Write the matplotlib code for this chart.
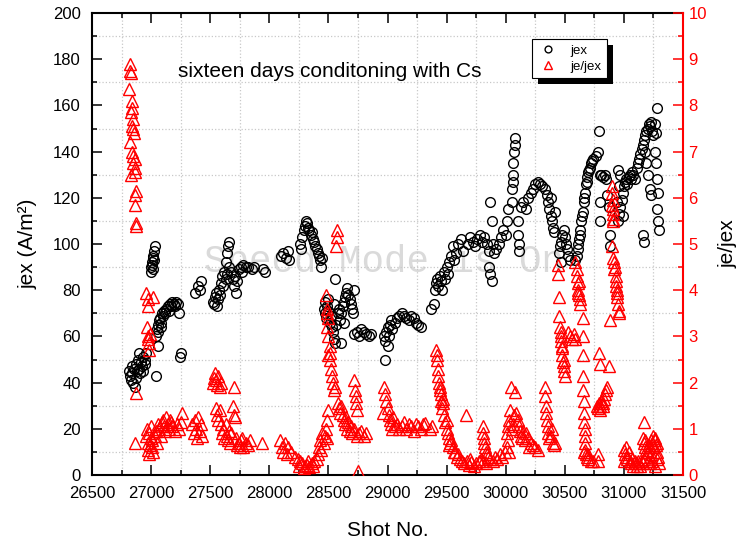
import matplotlib
matplotlib.use("Agg")
import matplotlib.pyplot as plt
from matplotlib.ticker import MultipleLocator
from matplotlib.patches import Rectangle

plt.rcParams['font.family'] = ['Liberation Sans', 'DejaVu Sans']

# Extraction current density jex (A/m^2) per shot
shot_jex = [
    26815, 26825, 26830, 26835, 26840, 26850, 26855, 26860, 26870, 26875, 26880, 26890, 26895, 26900,
    26905, 26915, 26920, 26930, 26935, 26945, 26950, 26960,
    26995, 27000, 27005, 27010, 27012, 27015, 27020, 27022, 27025, 27030,
    27040, 27045, 27050, 27055, 27058, 27060, 27065, 27075, 27080, 27085, 27090, 27100, 27110, 27120,
    27130, 27140, 27150, 27160, 27170, 27180, 27190, 27200, 27210, 27230, 27240,
    27245, 27250,
    27370, 27400, 27410, 27425,
    27525, 27535, 27540, 27550, 27555, 27565, 27575, 27585, 27590, 27600, 27610, 27620, 27630, 27635,
    27645, 27645, 27650, 27655, 27660,
    27680, 27690, 27700, 27710, 27720, 27730, 27740, 27760, 27770, 27780, 27800, 27820, 27850, 27870,
    27950, 27960,
    28100, 28120, 28140, 28160, 28170,
    28260, 28270, 28280, 28290, 28300, 28310, 28320, 28330, 28340, 28350, 28360, 28370, 28380, 28390,
    28400, 28410, 28420, 28430, 28440, 28450,
    28460, 28470, 28475, 28480, 28490, 28500, 28500, 28510, 28520, 28530, 28540, 28545, 28550, 28555,
    28560, 28565, 28580, 28590,
    28600, 28605, 28610, 28620, 28630, 28630, 28640, 28650, 28660, 28670, 28680, 28690, 28700, 28710, 28720,
    28720, 28740, 28760, 28780, 28800, 28820, 28840, 28860,
    28970, 28975, 28980, 28990, 29000, 29000, 29010, 29020, 29030, 29040,
    29060, 29080, 29100, 29120, 29140, 29160, 29180, 29200, 29220, 29240, 29260, 29280,
    29370, 29390, 29400, 29410, 29420, 29430, 29440, 29450, 29460, 29480, 29490, 29500, 29510, 29520,
    29540, 29550, 29560, 29580, 29600, 29620, 29640,
    29680, 29700, 29720, 29740, 29760, 29780, 29800, 29820, 29840, 29860,
    29860, 29870, 29880, 29870, 29880, 29890, 29900,
    29920, 29940, 29960, 29980, 30000, 30010, 30020,
    30050, 30055, 30060, 30060, 30065, 30070, 30075, 30080,
    30100, 30105, 30110, 30115,
    30130, 30150, 30170, 30190, 30210, 30230, 30250, 30270, 30290, 30310, 30330, 30350,
    30360, 30370, 30380, 30380, 30390, 30400, 30410, 30420,
    30450, 30460, 30470, 30470, 30480, 30490, 30500, 30510, 30520, 30530, 30540,
    30590, 30600, 30610, 30615, 30620, 30625, 30630, 30640, 30645, 30650, 30660, 30665, 30670, 30680,
    30685, 30690, 30700, 30705, 30710, 30720, 30730, 30740, 30760, 30780,
    30790,
    30800, 30800, 30800, 30810, 30820, 30840, 30850, 30860, 30870, 30880, 30885,
    30940, 30950, 30950, 30960, 30960, 30970, 30970, 30980, 30990, 30990, 31000, 31010, 31020, 31030,
    31040, 31050, 31060, 31070, 31080, 31090,
    31110, 31120, 31130, 31140, 31150, 31160, 31160, 31170, 31170, 31180, 31180, 31190, 31190, 31200,
    31200, 31210, 31220, 31220, 31230, 31230, 31240, 31250, 31260, 31260, 31270, 31270, 31280, 31280,
    31280, 31290, 31290, 31300,
]
jex = [
    45, 43, 41, 47, 44, 40, 46, 38, 42, 48, 45, 50, 53, 46,
    44, 49, 47, 45, 51, 48, 50, 53,
    88, 90, 92, 91, 89, 94, 95, 93, 97, 99,
    60, 43, 63, 65, 56, 62, 67, 68, 64, 66, 70, 69, 71, 70,
    72, 73, 71, 74, 73, 75, 74, 73, 75, 74, 70,
    51, 53,
    79, 82, 80, 84,
    75, 74, 77, 79, 73, 76, 80, 78, 83, 86, 82, 88, 85, 92,
    96, 87, 99, 101, 90,
    88, 85, 82, 86, 79, 84, 89, 90, 88, 91, 90, 90, 89, 90,
    89, 88,
    95, 96, 94, 97, 93,
    100, 98, 103, 106, 108, 110, 109, 107, 106, 104, 105, 102, 101, 99,
    98, 96, 95, 93, 90, 94,
    72, 75, 70, 68, 73, 71, 76, 66, 69, 64, 62, 74, 59, 85,
    57, 65, 70, 72,
    67, 57, 70, 73, 75, 66, 77, 79, 81, 78, 76, 74, 72, 70, 80,
    61, 62, 60, 63, 62, 61, 60, 61,
    60, 50, 58, 62, 64, 56, 60, 65, 67, 63,
    66, 68, 69, 70, 69, 68, 67, 69, 68, 66, 65, 64,
    72, 74, 80, 83, 85, 82, 86, 84, 80, 88, 85, 90, 87, 92,
    95, 99, 93, 96, 100, 102, 97,
    100, 103, 101, 99, 102, 104, 101, 103, 100, 97,
    90, 87, 84, 118, 110, 100, 96,
    98, 100, 103, 106, 104, 110, 115,
    118, 124, 127, 130, 135, 140, 143, 146,
    110, 104, 100, 97,
    116, 118, 115, 120, 122, 124, 126, 127, 126, 125, 124, 121,
    118, 115, 112, 120, 110, 107, 105, 114,
    96, 99, 101, 92, 104, 106, 103, 100, 98, 95, 93,
    93, 95, 98, 100, 102, 104, 106, 110, 112, 114, 118, 120, 122, 126,
    127, 129, 131, 132, 133, 135, 136, 137, 138, 140,
    149,
    130, 118, 110, 130, 129, 130, 128, 121, 116, 104, 99,
    118, 110, 132, 113, 125, 116, 130, 119, 122, 112, 125, 127, 128, 126,
    129, 130, 128, 131, 130, 128,
    133, 135, 137, 139, 141, 143, 104, 145, 101, 147, 140, 149, 135, 150,
    130, 152, 151, 124, 153, 121, 149, 147, 152, 140, 148, 135, 159, 128,
    115, 122, 110, 106,
]

# Ratio of electron to extracted ion current je/jex per shot
shot_ratio = [
    26820, 26825, 26830, 26815, 26835, 26840, 26830, 26845, 26835, 26850, 26825, 26855, 26840, 26850,
    26860, 26845, 26830, 26860, 26865, 26870, 26865, 26860, 26875, 26870,
    26960, 26970, 26975, 27020, 26965, 26975, 26980, 26970, 26985, 26990,
    26870, 26860,
    26960, 26965, 26970, 26975, 26980, 26985, 26990, 26995, 27000, 27005, 27010, 27020, 27030, 27040,
    27050, 27060, 27070, 27080, 27090, 27100, 27110, 27120, 27130, 27140, 27150, 27160, 27170, 27180,
    27200, 27220, 27240, 27250, 27260,
    27350, 27360, 27370, 27380, 27390, 27400, 27410, 27420, 27430,
    27520, 27530, 27540, 27550, 27560, 27570, 27580, 27590, 27700,
    27550, 27560, 27570, 27580, 27590, 27600, 27610, 27620, 27630, 27640, 27650, 27660, 27670, 27680,
    27690, 27700, 27710, 27720, 27730, 27740, 27750, 27760, 27770, 27780, 27800, 27820, 27840,
    27940, 28090, 28110, 28120, 28130, 28150, 28160, 28180,
    28220, 28240, 28250, 28260, 28280, 28290, 28300, 28320, 28330, 28340, 28360, 28370, 28380, 28400,
    28410, 28420, 28430, 28440, 28450, 28460, 28470, 28480, 28490,
    28480, 28490, 28490, 28500, 28490, 28500, 28510, 28510, 28500, 28510, 28520, 28530, 28540, 28550, 28560,
    28570, 28570, 28565,
    28490, 28500, 28580, 28590, 28600, 28610, 28620, 28630, 28640, 28650, 28660, 28670, 28680, 28690,
    28700, 28720, 28740, 28760, 28780, 28800, 28820,
    28720, 28725, 28730, 28735, 28740,
    28750,
    28960, 28970, 28980, 28990, 29000, 29010, 29020, 29030, 29040, 29050, 29060,
    29080, 29100, 29120, 29140, 29160, 29180, 29200, 29220, 29240, 29260, 29280, 29300, 29320, 29360, 29380,
    29410, 29415, 29420, 29425, 29430, 29435, 29440, 29445, 29450, 29455, 29460, 29470, 29470, 29480,
    29490, 29500, 29500, 29510, 29520, 29520, 29530, 29540, 29550, 29560,
    29660,
    29570, 29590, 29600, 29610, 29630, 29650, 29670, 29690, 29700, 29710, 29730, 29750, 29770, 29790,
    29810, 29830,
    29805, 29810, 29815, 29820, 29825, 29830, 29840, 29850,
    29870, 29890, 29910, 29930, 29950, 29970, 29990,
    30010, 30010, 30020, 30020, 30030, 30030, 30040, 30045, 30050, 30060, 30070, 30080, 30090, 30100,
    30110, 30120, 30130, 30140,
    30150, 30160, 30170, 30190, 30200, 30210, 30230, 30250, 30270,
    30330, 30335, 30340, 30345, 30350, 30355, 30360, 30370, 30380, 30390,
    30400, 30410, 30420,
    30440, 30445, 30450, 30455, 30460, 30465, 30470, 30470, 30475, 30480, 30480, 30485, 30490, 30490,
    30495, 30500,
    30530, 30545, 30560, 30575, 30590,
    30590, 30600, 30605, 30610, 30610, 30615, 30620, 30620, 30625, 30630,
    30650, 30650, 30652, 30655, 30657, 30660, 30662, 30665, 30667, 30670, 30672, 30675, 30680, 30660,
    30690, 30700, 30700, 30720, 30740,
    30780, 30780, 30790, 30795, 30870,
    30770, 30780, 30790, 30800, 30800, 30810, 30820, 30820, 30830, 30840, 30850, 30860,
    30900, 30900, 30905, 30900, 30905, 30910, 30905, 30910, 30900, 30910, 30920, 30915, 30925, 30930,
    30930, 30935, 30940, 30945, 30945, 30950, 30955, 30960, 30880,
    31000, 31005, 31010, 31015, 31020, 31030, 31040, 31050, 31060, 31070, 31080, 31090, 31100, 31110,
    31120, 31130, 31140, 31150, 31160, 31170, 31180, 31200, 31220, 31240, 31260, 31280, 31300,
    31170, 31160, 31170, 31175, 31180, 31190, 31200, 31210, 31220, 31230, 31230, 31240, 31250, 31250,
    31260, 31265, 31270, 31280, 31280, 31290,
]
ratio = [
    8.9, 8.75, 8.7, 8.35, 8.1, 7.95, 7.85, 7.7, 7.55, 7.5, 7.2, 7.4, 7.0, 6.9,
    6.85, 6.75, 6.5, 6.65, 6.55, 6.15, 6.05, 5.85, 5.45, 5.4,
    3.95, 3.8, 3.65, 3.85, 3.2, 3.0, 2.85, 2.95, 2.7, 3.05,
    1.77, 0.7,
    0.85, 1.0, 0.7, 0.55, 0.9, 0.45, 0.65, 0.8, 1.05, 0.6, 0.75, 0.5, 0.85, 0.95,
    0.7, 1.1, 1.0, 0.85, 1.15, 1.2, 1.05, 0.95, 1.25, 1.1, 1.0, 1.2, 1.15, 1.05,
    0.95, 1.1, 1.0, 1.15, 1.35,
    1.1, 0.9, 1.2, 1.0, 0.8, 1.25, 0.95, 1.1, 0.85,
    2.0, 2.1, 2.2, 2.05, 1.95, 2.15, 1.9, 2.0, 1.9,
    1.45, 1.3, 1.2, 1.4, 1.1, 0.9, 1.0, 0.8, 1.1, 0.85, 0.75, 0.95, 0.7, 0.9,
    1.5, 1.3, 1.25, 0.8, 0.65, 0.7, 0.6, 0.75, 0.8, 0.6, 0.7, 0.65, 0.75,
    0.7, 0.75, 0.6, 0.5, 0.7, 0.45, 0.6, 0.5,
    0.4, 0.35, 0.2, 0.3, 0.25, 0.15, 0.2, 0.22, 0.3, 0.18, 0.25, 0.2, 0.3, 0.35,
    0.45, 0.6, 0.75, 0.55, 0.9, 0.7, 0.85, 1.0, 0.8,
    3.9, 3.6, 3.5, 3.4, 3.2, 3.0, 2.8, 2.65, 2.6, 2.5, 2.3, 2.15, 2.0, 1.85, 1.9,
    5.3, 5.15, 4.95,
    1.2, 1.4, 1.55, 1.45, 1.35, 1.5, 1.3, 1.2, 1.1, 1.25, 1.0, 1.15, 0.95, 1.05,
    0.9, 1.0, 0.85, 0.9, 0.95, 0.85, 0.9,
    2.05, 1.85, 1.7, 1.55, 1.4,
    0.08,
    1.35, 1.9, 1.75, 1.6, 1.45, 1.3, 1.2, 1.1, 1.0, 1.25, 1.05,
    1.1, 1.0, 1.05, 1.15, 1.0, 1.1, 1.05, 0.95, 1.1, 1.05, 1.0, 1.1, 1.12, 1.0, 1.05,
    2.7, 2.6, 2.5, 2.3, 2.15, 2.0, 1.9, 1.85, 1.75, 1.6, 1.45, 1.55, 1.65, 1.3,
    1.15, 1.0, 1.2, 0.9, 0.8, 0.65, 0.7, 0.75, 0.6, 0.5,
    1.3,
    0.5, 0.4, 0.45, 0.35, 0.3, 0.25, 0.3, 0.22, 0.35, 0.28, 0.2, 0.25, 0.3, 0.35,
    0.3, 0.25,
    1.05, 0.9, 0.8, 0.7, 0.6, 0.5, 0.45, 0.4,
    0.35, 0.3, 0.4, 0.35, 0.45, 0.4, 0.5,
    0.9, 0.6, 1.05, 0.75, 1.2, 0.5, 1.4, 1.9, 1.0, 1.1, 1.3, 1.8, 1.35, 1.2,
    1.05, 0.95, 0.85, 0.8,
    0.95, 0.75, 0.9, 0.8, 0.6, 0.7, 0.65, 0.6, 0.55,
    1.9, 1.7, 1.5, 1.35, 1.2, 1.05, 0.9, 0.8, 0.85, 1.0,
    0.7, 0.65, 0.7,
    4.55, 4.35, 3.85, 3.45, 3.2, 3.0, 2.9, 3.1, 2.75, 2.6, 2.8, 2.45, 2.35, 2.5,
    2.25, 2.15,
    3.1, 3.0, 2.95, 3.05, 2.95,
    4.6, 4.45, 4.3, 4.15, 3.95, 4.0, 3.9, 4.2, 3.8, 3.7,
    3.4, 3.0, 2.6, 2.15, 1.85, 1.6, 1.35, 1.15, 1.0, 0.85, 0.7, 0.55, 0.45, 0.5,
    0.4, 0.35, 0.45, 0.3, 0.3,
    0.45, 0.3, 2.65, 2.4, 2.35,
    1.5, 1.45, 1.55, 1.4, 1.5, 1.6, 1.5, 1.55, 1.65, 1.75, 1.85, 1.9,
    6.25, 6.1, 5.95, 5.85, 5.75, 5.65, 5.55, 5.5, 4.95, 4.7, 4.6, 4.45, 4.5, 4.3,
    4.2, 4.1, 4.0, 3.85, 3.95, 3.7, 3.55, 3.5, 3.35,
    0.55, 0.3, 0.45, 0.6, 0.4, 0.35, 0.5, 0.3, 0.25, 0.35, 0.2, 0.3, 0.25, 0.2,
    0.3, 0.25, 0.2, 0.3, 0.25, 0.35, 0.4, 0.3, 0.25, 0.3, 0.2, 0.35, 0.25,
    1.15, 0.8, 0.7, 0.75, 0.6, 0.55, 0.5, 0.65, 0.6, 0.75, 0.45, 0.7, 0.6, 0.85,
    0.8, 0.75, 0.65, 0.5, 0.7, 0.4,
]

x_ticks = [26500, 27000, 27500, 28000, 28500, 29000, 29500, 30000, 30500, 31000, 31500]

fig = plt.figure(figsize=(7.38, 5.46), dpi=100)
ax = fig.add_axes([92 / 738, 71 / 546, 591 / 738, 462 / 546])
ax2 = ax.twinx()

# faint overlay text behind the data
ax.text(0.19, 0.46, 'Speed Mode is On', transform=ax.transAxes, family='Liberation Mono',
        fontsize=27, color='#dadada', va='center', ha='left', zorder=0.5)

l1, = ax.plot(shot_jex, jex, ls='none', marker='o', ms=7, mfc='none', mec='black',
              mew=1.0, label='jex', zorder=3)
l2, = ax2.plot(shot_ratio, ratio, ls='none', marker='^', ms=8, mfc='none', mec='red',
               mew=1.0, label='je/jex', zorder=3)

ax.set_xlim(26500, 31500)
ax.set_ylim(0, 200)
ax2.set_ylim(0, 10)
ax.set_xticks(x_ticks)
ax.xaxis.set_minor_locator(MultipleLocator(250))
ax.yaxis.set_major_locator(MultipleLocator(20))
ax.yaxis.set_minor_locator(MultipleLocator(10))
ax2.yaxis.set_major_locator(MultipleLocator(1))
ax2.yaxis.set_minor_locator(MultipleLocator(0.5))

ax.grid(which='minor', ls=':', color='#c8c8c8', lw=0.9)
ax.set_axisbelow(True)

ax.tick_params(which='both', direction='in', top=True, right=False, labelsize=12,
               width=1.1, pad=8, colors='black')
ax.tick_params(which='major', length=7)
ax.tick_params(which='minor', length=3.5)
ax2.tick_params(which='both', direction='in', labelsize=12, width=1.1, pad=4,
                colors='red', labelcolor='red')
ax2.tick_params(which='major', length=7)
ax2.tick_params(which='minor', length=3.5)

for name in ('left', 'bottom', 'top'):
    ax.spines[name].set_linewidth(1.5)
    ax2.spines[name].set_visible(False)
ax.spines['right'].set_visible(False)
ax2.spines['right'].set_color('red')
ax2.spines['right'].set_linewidth(1.5)

ax.set_xlabel('Shot No.', fontsize=15, labelpad=14)
ax.set_ylabel('jex (A/m²)', fontsize=15, labelpad=11)
ax2.set_ylabel('je/jex', fontsize=15, labelpad=8, color='black')

ax.text(0.1455, 0.874, 'sixteen days conditoning with Cs', transform=ax.transAxes,
        fontsize=15, va='center', ha='left', zorder=4)

leg = ax2.legend([l1, l2], ['jex', 'je/jex'], loc='upper left',
                 bbox_to_anchor=(0.7445, 0.9437), borderaxespad=0, fontsize=9.5,
                 frameon=True, fancybox=False, edgecolor='black', framealpha=1,
                 handlelength=1.6, handletextpad=0.9, borderpad=0.4, labelspacing=0.3,
                 markerscale=0.7)
leg.get_frame().set_linewidth(0.8)
leg.set_zorder(6)

# solid drop shadow behind the legend box
fig.canvas.draw()
bb = leg.get_window_extent().transformed(ax2.transAxes.inverted())
dx = 6 / 591
dy = 6 / 462
ax2.add_patch(Rectangle((bb.x0 + dx, bb.y0 - dy), bb.width, bb.height, transform=ax2.transAxes,
                        facecolor='black', edgecolor='none', zorder=5.5, clip_on=False))

fig.savefig('out.png', dpi=100)
